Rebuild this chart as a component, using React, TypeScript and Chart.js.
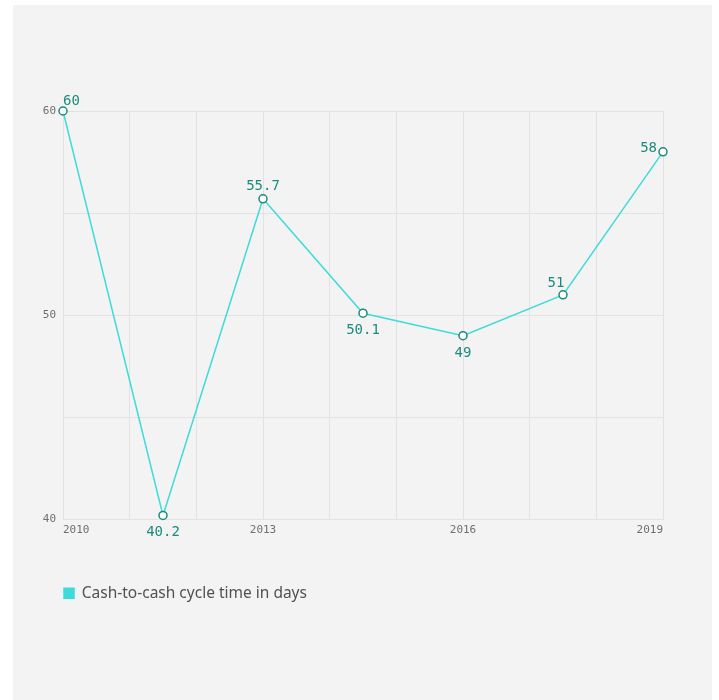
import React, { useEffect, useRef } from "react";
import { Chart, registerables } from "chart.js";

Chart.register(...registerables);

const seriesName = "Cash-to-cash cycle time in days";
const years = [2010, 2011.5, 2013, 2014.5, 2016, 2017.5, 2019];
const values = [60, 40.2, 55.7, 50.1, 49, 51, 58];
const labelAnchors = ["aboveRight", "below", "above", "below", "below", "aboveLeft", "left"];
const yLabelTicks = [40, 50, 60];
const xLabelTicks = [2010, 2013, 2016, 2019];

const LINE = "#3ddbd9";
const DARK = "#1b8b7c";
const MONO = "'DejaVu Sans Mono', 'Liberation Mono', monospace";

const valueLabels = {
  id: "valueLabels",
  afterDatasetsDraw(chart: any) {
    const ctx = chart.ctx;
    const meta = chart.getDatasetMeta(0);
    ctx.save();
    ctx.font = `14px ${MONO}`;
    ctx.fillStyle = DARK;
    ctx.textBaseline = "alphabetic";
    meta.data.forEach((pt: any, i: number) => {
      const a = labelAnchors[i];
      const t = String(values[i]);
      let x = pt.x;
      let y = pt.y;
      if (a === "aboveRight") { ctx.textAlign = "left"; y -= 6; }
      else if (a === "below") { ctx.textAlign = "center"; y += 21; }
      else if (a === "above") { ctx.textAlign = "center"; y -= 9; }
      else if (a === "aboveLeft") { ctx.textAlign = "center"; x -= 7; y -= 8; }
      else { ctx.textAlign = "right"; x -= 6; }
      ctx.fillText(t, x, y);
    });
    ctx.restore();
  },
};

export default function App() {
  const ref = useRef<HTMLCanvasElement>(null);
  useEffect(() => {
    if (!ref.current) return;
    const chart = new Chart(ref.current, {
      type: "line",
      data: {
        datasets: [
          {
            label: seriesName,
            data: years.map((x, i) => ({ x, y: values[i] })),
            borderColor: LINE,
            backgroundColor: LINE,
            borderWidth: 1.5,
            tension: 0,
            clip: false,
            pointRadius: 4,
            pointBorderWidth: 1.5,
            pointBorderColor: DARK,
            pointBackgroundColor: "#ffffff",
          },
        ],
      },
      options: {
        animation: false,
        responsive: false,
        devicePixelRatio: 1,
        layout: { padding: { left: 23, right: 56, top: 111, bottom: 89 } },
        scales: {
          x: {
            type: "linear",
            min: 2010,
            max: 2019,
            grid: { color: "#e2e2e2", drawTicks: false, lineWidth: 1 },
            border: { display: false },
            ticks: {
              stepSize: 1,
              autoSkip: false,
              maxRotation: 0,
              align: "inner",
              padding: 4,
              color: "#6f6f6f",
              font: { family: MONO, size: 11 },
              callback: (v: any) => (xLabelTicks.includes(Number(v)) ? String(v) : ""),
            },
            afterFit: (s: any) => { s.height = 65; },
          },
          y: {
            min: 40,
            max: 60,
            grid: { color: "#e2e2e2", drawTicks: false, lineWidth: 1 },
            border: { display: false },
            ticks: {
              stepSize: 5,
              padding: 7,
              color: "#6f6f6f",
              font: { family: MONO, size: 11 },
              callback: (v: any) => (yLabelTicks.includes(Number(v)) ? String(v) : ""),
            },
            afterFit: (s: any) => { s.width = 40; },
          },
        },
        plugins: {
          legend: {
            position: "bottom",
            align: "start",
            fullSize: false,
            labels: {
              boxWidth: 10,
              boxHeight: 10,
              padding: 1,
              color: "#525252",
              font: { family: "'Noto Sans', sans-serif", size: 15.5 },
            },
          },
          tooltip: { enabled: false },
        },
      },
      plugins: [valueLabels],
    } as any);
    return () => chart.destroy();
  }, []);

  return (
    <div style={{ position: "fixed", left: 0, top: 0, width: 719, height: 700, background: "#ffffff" }}>
      <div style={{ position: "absolute", left: 13, top: 5, width: 699, height: 695, background: "#f3f3f3" }} />
      <canvas ref={ref} width={719} height={700} style={{ position: "absolute", left: 0, top: 0, width: 719, height: 700 }} />
    </div>
  );
}
